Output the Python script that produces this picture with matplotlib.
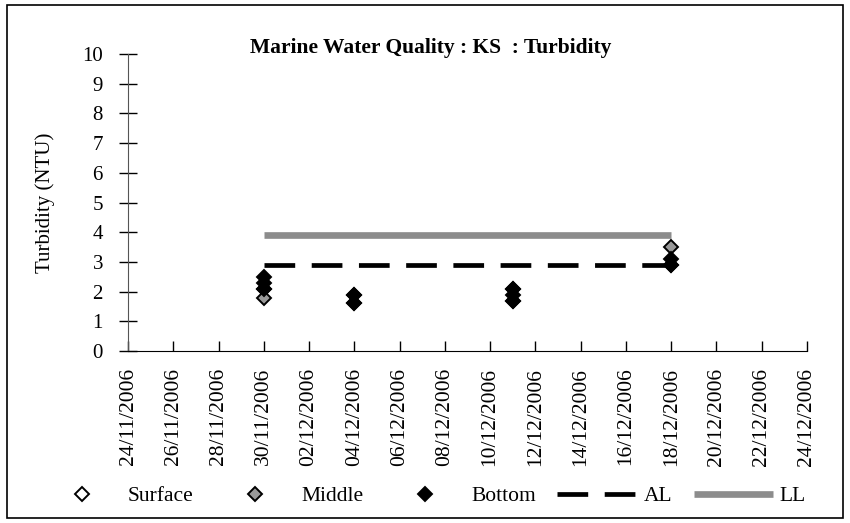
import matplotlib
matplotlib.use("Agg")
import matplotlib.pyplot as plt
import matplotlib.dates as mdates
from matplotlib.patches import Rectangle
from matplotlib.lines import Line2D
import pandas as pd

plt.rcParams['font.family'] = ['Liberation Serif', 'DejaVu Serif']

# data
surface_dates = ["30/11/2006", "04/12/2006", "11/12/2006", "18/12/2006"]
surface = [2.1, 1.9, 2.1, 2.9]
middle_dates = ["30/11/2006", "04/12/2006", "11/12/2006", "18/12/2006"]
middle = [1.8, 1.6, 1.7, 3.5]
bottom_dates = ["30/11/2006", "30/11/2006", "30/11/2006", "04/12/2006", "04/12/2006",
                "11/12/2006", "11/12/2006", "11/12/2006", "18/12/2006", "18/12/2006"]
bottom = [2.5, 2.3, 2.1, 1.9, 1.6, 2.1, 1.9, 1.7, 3.1, 2.9]
limit_dates = ["30/11/2006", "18/12/2006"]
al = [2.9, 2.9]
ll = [3.9, 3.9]

def to_dt(lst):
    return pd.to_datetime(lst, format="%d/%m/%Y")

fig = plt.figure(figsize=(8.5, 5.23), dpi=100)
ax = fig.add_axes([128/850, 1-351/523, (807-128)/850, (351-54)/523])

ax.plot(to_dt(limit_dates), ll, color='#8c8c8c', lw=4.8, solid_capstyle='butt', label='LL', zorder=2)
ax.plot(to_dt(limit_dates), al, color='black', lw=3.4, dashes=(6.5, 3.5), dash_capstyle='butt', label='AL', zorder=2)

mk = dict(marker='D', ms=7, mew=1.4, mec='black', ls='none', zorder=3)
ax.plot(to_dt(surface_dates), surface, mfc='white', label='Surface', **mk)
ax.plot(to_dt(middle_dates), middle, mfc='#999999', label='Middle', **mk)
ax.plot(to_dt(bottom_dates), bottom, mfc='black', label='Bottom', **mk)

ax.set_xlim(pd.Timestamp("2006-11-24"), pd.Timestamp("2006-12-24"))
ax.set_ylim(0, 10)
ax.set_yticks(range(0, 11))
ax.set_xticks(pd.date_range("2006-11-24", "2006-12-24", freq="2D"))
ax.xaxis.set_major_formatter(mdates.DateFormatter("%d/%m/%Y"))
ax.tick_params(axis='x', direction='in', length=7, width=1, pad=12, labelsize=15.5, labelrotation=90)
ax.tick_params(axis='y', direction='inout', length=13, width=1, pad=11.5, labelsize=15)
for s in ['top', 'right']:
    ax.spines[s].set_visible(False)
ax.spines['left'].set_color('#555555')
ax.set_ylabel("Turbidity (NTU)", fontsize=15, labelpad=19.5)

fig.text(431/850, 1-48/523, "Marine Water Quality : KS  : Turbidity", ha='center', va='center',
         fontsize=15.5, fontweight='bold')

handles = [
    Line2D([], [], marker='D', ms=7, mew=1.4, mec='black', mfc='white', ls='none'),
    Line2D([], [], marker='D', ms=7, mew=1.4, mec='black', mfc='#999999', ls='none'),
    Line2D([], [], marker='D', ms=7, mew=1.4, mec='black', mfc='black', ls='none'),
    Line2D([], [], color='black', lw=3.4, dashes=(6.5, 3.5), dash_capstyle='butt'),
    Line2D([], [], color='#8c8c8c', lw=4.8, solid_capstyle='butt'),
]
fig.legend(handles, ['Surface', 'Middle', 'Bottom', 'AL', 'LL'], loc='center',
           bbox_to_anchor=(424/850, 1-496/523), ncol=5, frameon=False, fontsize=15.5,
           handlelength=3.7, handletextpad=0.3, columnspacing=1.0)

fig.patches.append(Rectangle((7/850, 5/523), 836/850, 513/523, transform=fig.transFigure,
                             fill=False, edgecolor='black', lw=1.2))

fig.savefig("out.png", dpi=100)
